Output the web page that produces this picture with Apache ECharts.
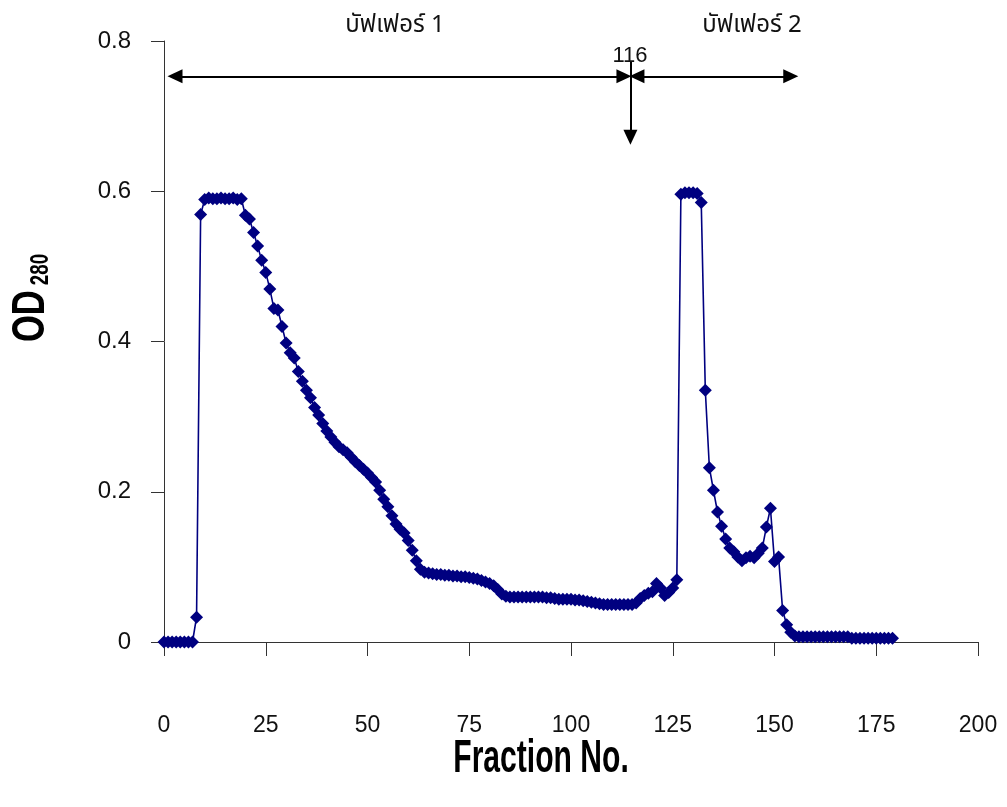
<!DOCTYPE html>
<html><head><meta charset="utf-8">
<script src="https://cdn.jsdelivr.net/npm/echarts@6/dist/echarts.min.js"></script>
<style>html,body{margin:0;padding:0;background:#fff}#c{width:1007px;height:807px}</style>
</head><body><div id="c"></div>
<script>
const fractions = [0,1,2,3,4,5,6,7,8,9,10,11,12,13,14,15,16,17,18,19,20,21,22,23,24,25,26,27,28,29,30,31,32,33,34,35,36,37,38,39,40,41,42,43,44,45,46,47,48,49,50,51,52,53,54,55,56,57,58,59,60,61,62,63,64,65,66,67,68,69,70,71,72,73,74,75,76,77,78,79,80,81,82,83,84,85,86,87,88,89,90,91,92,93,94,95,96,97,98,99,100,101,102,103,104,105,106,107,108,109,110,111,112,113,114,115,116,117,118,119,120,121,122,123,124,125,126,127,128,129,130,131,132,133,134,135,136,137,138,139,140,141,142,143,144,145,146,147,148,149,150,151,152,153,154,155,156,157,158,159,160,161,162,163,164,165,166,167,168,169,170,171,172,173,174,175,176,177,178,179];
const od280 = [
0,0,0,0,0,0,0,0,0.033,0.569,
0.589,0.591,0.590,0.590,0.591,0.590,0.590,0.591,0.589,0.590,
0.568,0.563,0.545,0.527,0.508,0.492,0.470,0.444,0.442,0.420,
0.398,0.385,0.378,0.360,0.347,0.335,0.325,0.312,0.302,0.291,
0.281,0.273,0.266,0.260,0.256,0.252,0.246,0.240,0.235,0.230,
0.225,0.219,0.213,0.202,0.190,0.180,0.168,0.157,0.150,0.145,
0.135,0.122,0.108,0.097,0.093,0.092,0.091,0.090,0.090,0.089,
0.089,0.088,0.088,0.087,0.087,0.086,0.085,0.084,0.082,0.080,
0.078,0.075,0.070,0.064,0.061,0.060,0.060,0.060,0.060,0.060,
0.060,0.060,0.060,0.060,0.059,0.059,0.058,0.057,0.057,0.057,
0.057,0.056,0.056,0.055,0.054,0.053,0.052,0.051,0.050,0.050,
0.050,0.050,0.050,0.050,0.050,0.050,0.052,0.058,0.062,0.065,
0.067,0.078,0.072,0.062,0.066,0.072,0.083,0.596,0.598,0.598,
0.598,0.597,0.585,0.335,0.232,0.202,0.173,0.154,0.137,0.125,
0.120,0.113,0.108,0.112,0.114,0.112,0.118,0.125,0.153,0.178,
0.107,0.113,0.042,0.023,0.013,0.008,0.007,0.007,0.007,0.007,
0.007,0.007,0.007,0.007,0.007,0.007,0.007,0.007,0.007,0.005,
0.005,0.005,0.005,0.005,0.005,0.005,0.005,0.005,0.005,0.005
];
const xTicks = [0,25,50,75,100,125,150,175,200];
const yTicks = [0,0.2,0.4,0.6,0.8];
const bufferLabels = ['บัฟเฟอร์ 1','บัฟเฟอร์ 2'];
const splitLabel = '116';
// annotation arrows (data coordinates)
const arrowY = 0.753;
const arrowStart = 2.7, arrowSplitL = 113.0, arrowSplitR = 116.2, arrowEnd = 154.0;
const splitX = 114.6, splitTop = 0.772, splitBottom = 0.672;

const data = fractions.map((f,i)=>[f, od280[i]]);
const chart = echarts.init(document.getElementById('c'), null, {renderer:'canvas'});
const axisColor = '#333';
const boldFont = '"Liberation Sans",Arial,sans-serif';
chart.setOption({
  animation:false,
  backgroundColor:'#fff',
  grid:{left:164, right:29, top:41, bottom:165, containLabel:false},
  xAxis:{type:'value', min:xTicks[0], max:xTicks[xTicks.length-1], interval:25,
    axisLine:{show:true, onZero:false, lineStyle:{color:axisColor, width:1}},
    axisTick:{show:true, inside:false, length:14, lineStyle:{color:axisColor}},
    axisLabel:{margin:72, fontSize:23, color:'#111', fontFamily:'"Liberation Sans",Arial,sans-serif'},
    splitLine:{show:false}},
  yAxis:{type:'value', min:yTicks[0], max:yTicks[yTicks.length-1], interval:0.2,
    axisLine:{show:true, lineStyle:{color:axisColor, width:1}},
    axisTick:{show:true, inside:false, length:13, lineStyle:{color:axisColor}},
    axisLabel:{margin:33, fontSize:24, color:'#111', fontFamily:'"Liberation Sans",Arial,sans-serif'},
    splitLine:{show:false}},
  series:[{
    type:'line', data:data, symbol:'diamond', symbolSize:13, showAllSymbol:true,
    itemStyle:{color:'#000080'}, lineStyle:{color:'#000080', width:1.6},
    silent:true, z:3,
    markLine:{silent:true, animation:false, label:{show:false},
      symbol:['triangle','triangle'], symbolSize:[14,15],
      lineStyle:{color:'#000', width:2, type:'solid'},
      emphasis:{disabled:true},
      data:[
        [{coord:[arrowStart,arrowY]},{coord:[arrowSplitL,arrowY]}],
        [{coord:[arrowSplitR,arrowY]},{coord:[arrowEnd,arrowY]}],
        [{coord:[splitX,splitTop], symbol:'none'},{coord:[splitX,splitBottom]}]
      ]}
  }],
  graphic:[
    {type:'text', x:395, y:27, style:{text:bufferLabels[0], fontSize:24, fontFamily:'"Noto Sans Thai","Noto Sans","DejaVu Sans",sans-serif', fill:'#111', align:'center', verticalAlign:'middle'}},
    {type:'text', x:752, y:27, style:{text:bufferLabels[1], fontSize:24, fontFamily:'"Noto Sans Thai","Noto Sans","DejaVu Sans",sans-serif', fill:'#111', align:'center', verticalAlign:'middle'}},
    {type:'text', x:630, y:56, style:{text:splitLabel, fontSize:22, fontFamily:'"Liberation Sans",Arial,sans-serif', fill:'#111', align:'center', verticalAlign:'middle'}},
    {type:'text', x:541, y:759, scaleX:0.64, style:{text:'Fraction No.', fontSize:47, fontWeight:'bold', fontFamily:boldFont, fill:'#000', align:'center', verticalAlign:'middle'}},
    {type:'text', x:30, y:298, rotation:Math.PI/2, scaleX:0.75, style:{text:'{a|OD}{b| 280}', align:'center', verticalAlign:'middle', fill:'#000',
      rich:{a:{fontSize:46, fontWeight:'bold', fontFamily:boldFont, verticalAlign:'bottom', lineHeight:48},
            b:{fontSize:25, fontWeight:'bold', fontFamily:boldFont, verticalAlign:'bottom', lineHeight:48}}}}
  ]
});
</script></body></html>
